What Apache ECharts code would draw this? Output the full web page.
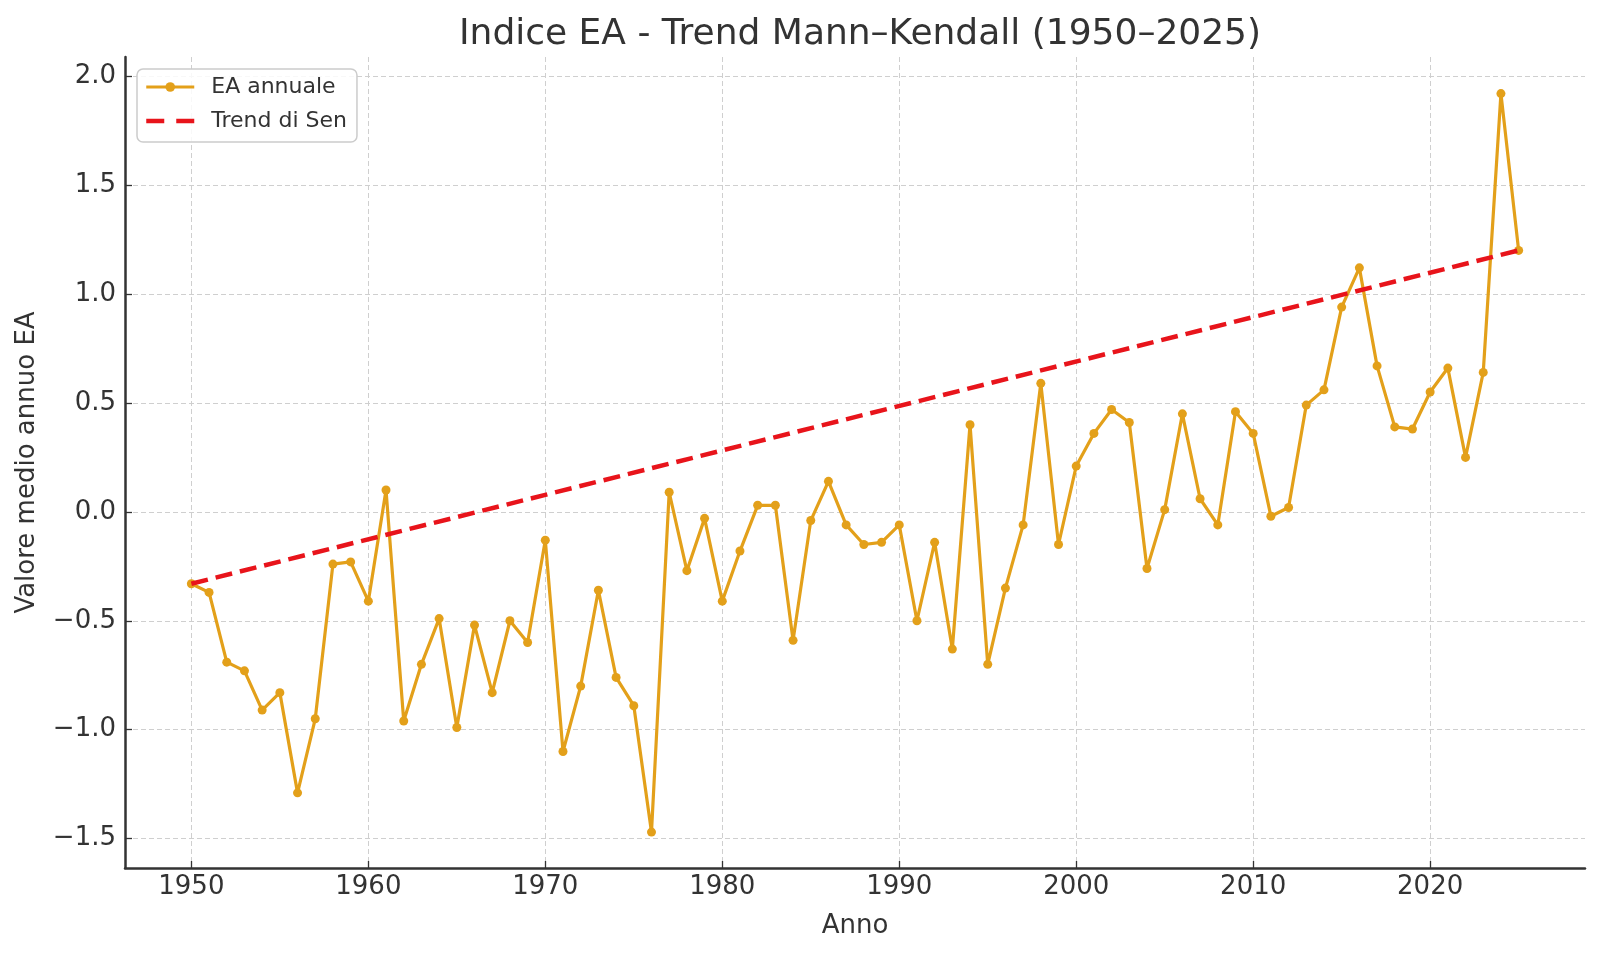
<!DOCTYPE html>
<html>
<head>
<meta charset="utf-8">
<script src="https://cdn.jsdelivr.net/npm/echarts@6/dist/echarts.min.js"></script>
<style>
html,body{margin:0;padding:0;background:#fff;}
#chart{width:1600px;height:954px;}
</style>
</head>
<body>
<div id="chart"></div>
<script>
const years = [1950,1951,1952,1953,1954,1955,1956,1957,1958,1959,
  1960,1961,1962,1963,1964,1965,1966,1967,1968,1969,
  1970,1971,1972,1973,1974,1975,1976,1977,1978,1979,
  1980,1981,1982,1983,1984,1985,1986,1987,1988,1989,
  1990,1991,1992,1993,1994,1995,1996,1997,1998,1999,
  2000,2001,2002,2003,2004,2005,2006,2007,2008,2009,
  2010,2011,2012,2013,2014,2015,2016,2017,2018,2019,
  2020,2021,2022,2023,2024,2025];
const eaValues = [-0.33,-0.37,-0.69,-0.73,-0.91,-0.83,-1.29,-0.95,-0.24,-0.23,
  -0.41,0.10,-0.96,-0.70,-0.49,-0.99,-0.52,-0.83,-0.50,-0.60,
  -0.13,-1.10,-0.80,-0.36,-0.76,-0.89,-1.47,0.09,-0.27,-0.03,
  -0.41,-0.18,0.03,0.03,-0.59,-0.04,0.14,-0.06,-0.15,-0.14,
  -0.06,-0.50,-0.14,-0.63,0.40,-0.70,-0.35,-0.06,0.59,-0.15,
  0.21,0.36,0.47,0.41,-0.26,0.01,0.45,0.06,-0.06,0.46,
  0.36,-0.02,0.02,0.49,0.56,0.94,1.12,0.67,0.39,0.38,
  0.55,0.66,0.25,0.64,1.92,1.20];
const trendYears = [1950, 2025];
const trendValues = [-0.33, 1.20];
const xTicks = [1950,1960,1970,1980,1990,2000,2010,2020];
const yTicks = [-1.5,-1.0,-0.5,0.0,0.5,1.0,1.5,2.0];

const FONT = 'DejaVu Sans';
const TXT = '#333333';
const EA_COLOR = '#E3A01A';
const TREND_COLOR = '#E8141B';
const chart = echarts.init(document.getElementById('chart'), null, {renderer:'canvas'});

const eaData = years.map((y,i)=>[y, eaValues[i]]);
const trendData = trendYears.map((y,i)=>[y, trendValues[i]]);

const splitStyle = {show:true, lineStyle:{color:'#cfcfcf', width:1, type:[5,3]}};

chart.setOption({
  animation:false,
  backgroundColor:'#ffffff',
  title:{
    text:'Indice EA - Trend Mann\u2013Kendall (1950\u20132025)',
    left:855, top:12, textAlign:'center',
    textStyle:{fontFamily:FONT, fontSize:36, fontWeight:'normal', color:TXT}
  },
  legend:{
    orient:'vertical', left:137, top:69,
    padding:[6,10,9,7],
    itemWidth:48, itemHeight:12, itemGap:10,
    backgroundColor:'rgba(255,255,255,0.85)',
    borderColor:'#cccccc', borderWidth:1.5, borderRadius:6,
    selectedMode:false,
    textStyle:{fontFamily:FONT, fontSize:22, color:TXT, lineHeight:24, padding:[0,0,0,12]},
    data:[
      {name:'EA annuale', lineStyle:{color:EA_COLOR, width:3.2}, itemStyle:{color:EA_COLOR}},
      {name:'Trend di Sen', lineStyle:{color:TREND_COLOR, width:4.5, type:[18,12]}, itemStyle:{color:TREND_COLOR, opacity:0}}
    ]
  },
  grid:{left:125, right:15, top:57, bottom:86, containLabel:false},
  xAxis:{
    type:'value', min:1946.25, max:2028.75,
    name:'Anno', nameLocation:'middle', nameGap:45,
    nameTextStyle:{fontFamily:FONT, fontSize:26, color:TXT},
    axisLine:{show:true, onZero:false, lineStyle:{color:'#333333', width:2.5}},
    axisTick:{show:true, inside:true, length:7, customValues:xTicks, lineStyle:{color:'#333333', width:1.3}},
    axisLabel:{customValues:xTicks, margin:6, fontFamily:FONT, fontSize:26, color:TXT,
      formatter:v=>String(Math.round(v))},
    splitLine:splitStyle
  },
  yAxis:{
    type:'value', min:-1.635, max:2.088,
    name:'Valore medio annuo EA', nameLocation:'middle', nameGap:85, nameRotate:90,
    nameTextStyle:{fontFamily:FONT, fontSize:26, color:TXT},
    axisLine:{show:true, onZero:false, lineStyle:{color:'#333333', width:2.5}},
    axisTick:{show:true, inside:true, length:7, customValues:yTicks, lineStyle:{color:'#333333', width:1.3}},
    axisLabel:{customValues:yTicks, margin:9, fontFamily:FONT, fontSize:26, color:TXT,
      formatter:v=>(v<0?'\u2212':'')+Math.abs(v).toFixed(1)},
    splitLine:splitStyle
  },
  series:[
    {
      name:'EA annuale', type:'line', data:eaData,
      symbol:'circle', symbolSize:9, showSymbol:true,
      itemStyle:{color:EA_COLOR},
      lineStyle:{color:EA_COLOR, width:3.2},
      z:2
    },
    {
      name:'Trend di Sen', type:'line', data:trendData,
      symbol:'none',
      itemStyle:{color:TREND_COLOR},
      lineStyle:{color:TREND_COLOR, width:4.5, type:[17,8]},
      z:3
    }
  ]
});
</script>
</body>
</html>
